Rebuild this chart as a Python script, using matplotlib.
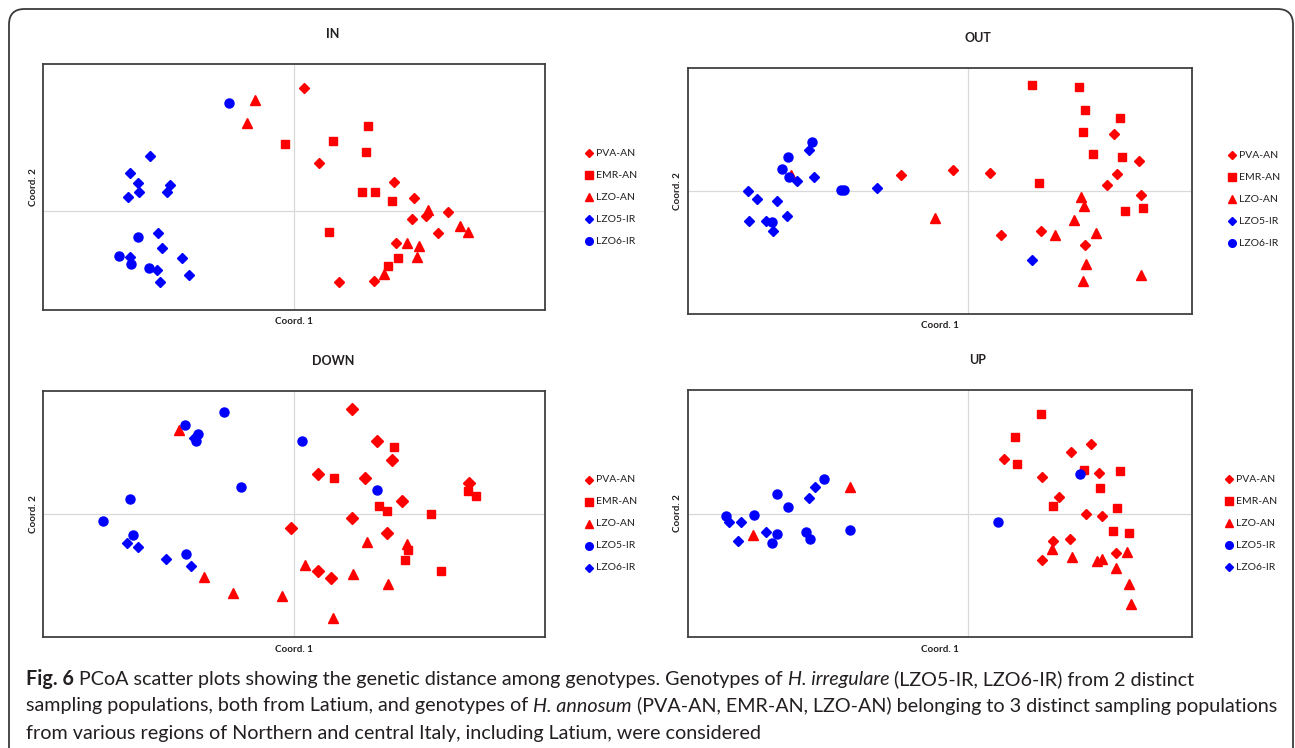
import matplotlib
matplotlib.use("Agg")
import matplotlib.pyplot as plt
from matplotlib.lines import Line2D
from matplotlib.patches import FancyBboxPatch

W, H = 1295, 748
RED = "#ff0000"
BLUE = "#0000ff"
SPINE = "#404040"
GRID = "#d9d9d9"
TXT = "#231f20"
FONT = "Lato"

# ── data (Coord. 1, Coord. 2) ────────────────────────────────────────────────
IN_PVA = [(0.10, 1.23), (0.25, 0.48), (1.00, 0.29), (1.20, 0.13), (1.54, -0.01), (1.18, -0.08),
          (1.32, -0.05), (1.44, -0.22), (1.02, -0.32), (0.45, -0.71), (0.80, -0.70)]
IN_EMR = [(0.74, 0.85), (0.39, 0.70), (0.72, 0.59), (-0.10, 0.67), (0.68, 0.19), (0.81, 0.19),
          (0.98, 0.10), (0.35, -0.21), (1.04, -0.47), (0.94, -0.55)]
IN_LZO = [(-0.40, 1.11), (-0.48, 0.88), (1.34, 0.01), (1.66, -0.15), (1.74, -0.21), (1.13, -0.32),
          (1.25, -0.35), (1.23, -0.46), (0.90, -0.63)]
IN_LZO5 = [(-1.45, 0.55), (-1.65, 0.38), (-1.57, 0.28), (-1.25, 0.26), (-1.67, 0.14), (-1.56, 0.19),
           (-1.28, 0.19), (-1.37, -0.22), (-1.33, -0.37), (-1.65, -0.46), (-1.13, -0.47),
           (-1.38, -0.59), (-1.06, -0.64), (-1.35, -0.71)]
IN_LZO6 = [(-0.66, 1.08), (-1.57, -0.26), (-1.76, -0.45), (-1.64, -0.53), (-1.46, -0.57)]

OUT_PVA = [(-0.66, 0.16), (-0.15, 0.21), (0.22, 0.18), (0.33, -0.44), (1.46, 0.57), (1.71, 0.30),
           (1.49, 0.17), (1.39, 0.06), (1.73, -0.04), (0.73, -0.40), (1.17, -0.54)]
OUT_EMR = [(0.64, 1.06), (1.11, 1.04), (1.17, 0.81), (1.52, 0.73), (1.15, 0.59), (1.25, 0.37),
           (1.54, 0.34), (0.71, 0.08), (1.57, -0.20), (1.75, -0.17)]
OUT_LZO = [(-1.76, 0.16), (-0.32, -0.27), (1.13, -0.06), (1.16, -0.15), (1.06, -0.29), (0.87, -0.44),
           (1.28, -0.42), (1.18, -0.73), (1.15, -0.90), (1.73, -0.84)]
OUT_LZO5 = [(-2.19, 0.00), (-2.10, -0.08), (-1.90, -0.10), (-2.18, -0.30), (-2.01, -0.30),
            (-1.94, -0.40), (-1.80, -0.25), (-1.58, 0.41), (-1.53, 0.14), (-1.70, 0.10),
            (-0.90, 0.03), (0.64, -0.69)]
OUT_LZO6 = [(-1.55, 0.49), (-1.79, 0.34), (-1.85, 0.22), (-1.78, 0.14), (-1.95, -0.31),
            (-1.26, 0.01), (-1.23, 0.01)]

DOWN_PVA = [(0.58, 1.05), (0.83, 0.73), (0.98, 0.54), (0.24, 0.40), (0.71, 0.36), (1.08, 0.13),
            (0.58, -0.04), (-0.04, -0.14), (0.93, -0.19), (0.24, -0.57), (0.37, -0.64), (1.75, 0.31)]
DOWN_EMR = [(1.00, 0.67), (0.40, 0.36), (1.74, 0.23), (1.82, 0.18), (0.85, 0.08), (0.93, 0.03),
            (1.37, 0.00), (1.14, -0.36), (1.11, -0.46), (1.47, -0.57)]
DOWN_LZO = [(-1.16, 0.84), (0.73, -0.28), (1.13, -0.30), (0.11, -0.51), (0.59, -0.60),
            (-0.91, -0.63), (-0.62, -0.79), (-0.13, -0.82), (0.94, -0.70), (0.39, -1.04)]
DOWN_LZO5 = [(-0.71, 1.02), (-1.10, 0.89), (-0.97, 0.80), (-0.99, 0.73), (0.08, 0.73),
             (-0.54, 0.27), (-1.65, 0.15), (-1.92, -0.07), (-1.62, -0.21), (-1.09, -0.40), (0.83, 0.24)]
DOWN_LZO6 = [(-1.01, 0.76), (-1.68, -0.29), (-1.57, -0.33), (-1.29, -0.45), (-1.04, -0.52)]

UP_PVA = [(1.23, 0.70), (1.03, 0.62), (0.36, 0.55), (0.74, 0.37), (1.31, 0.41), (0.91, 0.17),
          (1.18, 0.00), (1.34, -0.02), (0.85, -0.27), (1.02, -0.25), (1.48, -0.39), (0.74, -0.46)]
UP_EMR = [(0.73, 1.00), (0.47, 0.77), (0.49, 0.50), (1.16, 0.44), (1.52, 0.43), (1.32, 0.26),
          (0.85, 0.08), (1.49, 0.06), (1.45, -0.17), (1.61, -0.19)]
UP_LZO = [(-1.18, 0.27), (-2.15, -0.21), (0.84, -0.35), (1.04, -0.43), (1.29, -0.47), (1.34, -0.45),
          (1.59, -0.38), (1.48, -0.54), (1.61, -0.70), (1.63, -0.90)]
UP_LZO5 = [(-2.42, -0.02), (-2.14, -0.01), (-1.91, 0.20), (-1.80, 0.07), (-1.44, 0.35),
           (-1.91, -0.20), (-1.96, -0.29), (-1.62, -0.18), (-1.58, -0.25), (-1.18, -0.16),
           (0.30, -0.08), (1.12, 0.40)]
UP_LZO6 = [(-2.39, -0.08), (-2.27, -0.08), (-2.30, -0.27), (-2.02, -0.18), (-1.59, 0.16), (-1.53, 0.27)]

LABELS = ["PVA-AN", "EMR-AN", "LZO-AN", "LZO5-IR", "LZO6-IR"]

# marker (shape, colour, size) per group
MK_D = ("D", RED, 5.0)
MK_S = ("s", RED, 6.3)
MK_T = ("^", RED, 7.0)
MK_BD = ("D", BLUE, 5.0)
MK_BO = ("o", BLUE, 6.5)

# panel: title, box in px (left, top, right, bottom), xlim, ylim, groups, markers, legend anchor px
PANELS = [
    ("IN", (43, 64, 545, 310), (-2.52, 2.51), (-0.99, 1.47),
     [IN_PVA, IN_EMR, IN_LZO, IN_LZO5, IN_LZO6], [MK_D, MK_S, MK_T, MK_BD, MK_BO], (589, 153)),
    ("OUT", (688, 68, 1192, 314), (-2.79, 2.24), (-1.23, 1.23),
     [OUT_PVA, OUT_EMR, OUT_LZO, OUT_LZO5, OUT_LZO6], [MK_D, MK_S, MK_T, MK_BD, MK_BO], (1232, 155)),
    ("DOWN", (43, 391, 545, 637), (-2.52, 2.51), (-1.23, 1.23),
     [DOWN_PVA, DOWN_EMR, DOWN_LZO, DOWN_LZO5, DOWN_LZO6],
     [("D", RED, 6.5), MK_S, MK_T, MK_BO, ("D", BLUE, 4.6)], (589, 480)),
    ("UP", (688, 390, 1192, 637), (-2.80, 2.24), (-1.23, 1.24),
     [UP_PVA, UP_EMR, UP_LZO, UP_LZO5, UP_LZO6], [MK_D, MK_S, MK_T, MK_BO, MK_BD], (1229, 479)),
]


def fx(x):
    return x / W


def fy(y):
    return 1 - y / H


fig = plt.figure(figsize=(W / 100, H / 100), dpi=100)
fig.patch.set_facecolor("white")

# outer rounded frame
frame = FancyBboxPatch((fx(9), fy(770)), fx(1284), (761) / H,
                       boxstyle="round,pad=0,rounding_size=0.012",
                       transform=fig.transFigure, facecolor="none",
                       edgecolor="#3a3a3a", linewidth=1.3, mutation_aspect=W / H)
fig.add_artist(frame)

for title, (l, t, r, b), xlim, ylim, groups, markers, (lx, ly) in PANELS:
    ax = fig.add_axes([fx(l), fy(b), (r - l) / W, (b - t) / H])
    ax.axhline(0, color=GRID, lw=0.9, zorder=0)
    ax.axvline(0, color=GRID, lw=0.9, zorder=0)
    for pts, (m, c, ms) in zip(groups, markers):
        xs = [p[0] for p in pts]
        ys = [p[1] for p in pts]
        ax.plot(xs, ys, ls="none", marker=m, color=c, ms=ms, mec=c, zorder=3)
    ax.set_xlim(*xlim)
    ax.set_ylim(*ylim)
    ax.set_xticks([])
    ax.set_yticks([])
    for sp in ax.spines.values():
        sp.set_color(SPINE)
        sp.set_linewidth(1.3)

    cx = (l + r) / 2
    fig.text(fx(l + 290), fy(t - 30), title, ha="center", va="center",
             fontsize=9, fontweight="bold", family=FONT, color=TXT)
    fig.text(fx(cx), fy(b + 12), "Coord. 1", ha="center", va="center",
             fontsize=7, fontweight="bold", family=FONT, color=TXT)
    fig.text(fx(l - 10), fy((t + b) / 2), "Coord. 2", ha="center", va="center",
             rotation=90, fontsize=7, fontweight="bold", family=FONT, color=TXT)

    # legend
    for i, (lab, (m, c, ms)) in enumerate(zip(LABELS, markers)):
        yy = ly + i * 22
        fig.add_artist(Line2D([fx(lx)], [fy(yy)], transform=fig.transFigure, ls="none",
                              marker=m, color=c, ms=min(ms, 5.5) if m != "D" else 4.3))
        fig.text(fx(lx + 7), fy(yy), lab, ha="left", va="center",
                 fontsize=7.5, family=FONT, color=TXT)

# ── caption ──────────────────────────────────────────────────────────────────
CAPTION = [
    [("Fig. 6", "bold", "normal"),
     (" PCoA scatter plots showing the genetic distance among genotypes. Genotypes of ", "normal", "normal"),
     ("H. irregulare", "normal", "italic"),
     (" (LZO5-IR, LZO6-IR) from 2 distinct", "normal", "normal")],
    [("sampling populations, both from Latium, and genotypes of ", "normal", "normal"),
     ("H. annosum", "normal", "italic"),
     (" (PVA-AN, EMR-AN, LZO-AN) belonging to 3 distinct sampling populations", "normal", "normal")],
    [("from various regions of Northern and central Italy, including Latium, were considered",
      "normal", "normal")],
]
renderer = fig.canvas.get_renderer()
for k, line in enumerate(CAPTION):
    x = 26
    y = 679 + k * 27
    for seg, wt, st in line:
        t = fig.text(fx(x), fy(y), seg, ha="left", va="center", fontsize=14.2,
                     fontweight=wt, fontstyle=st, family=FONT, color=TXT)
        x += t.get_window_extent(renderer=renderer).width

fig.savefig("out.png", dpi=100)
